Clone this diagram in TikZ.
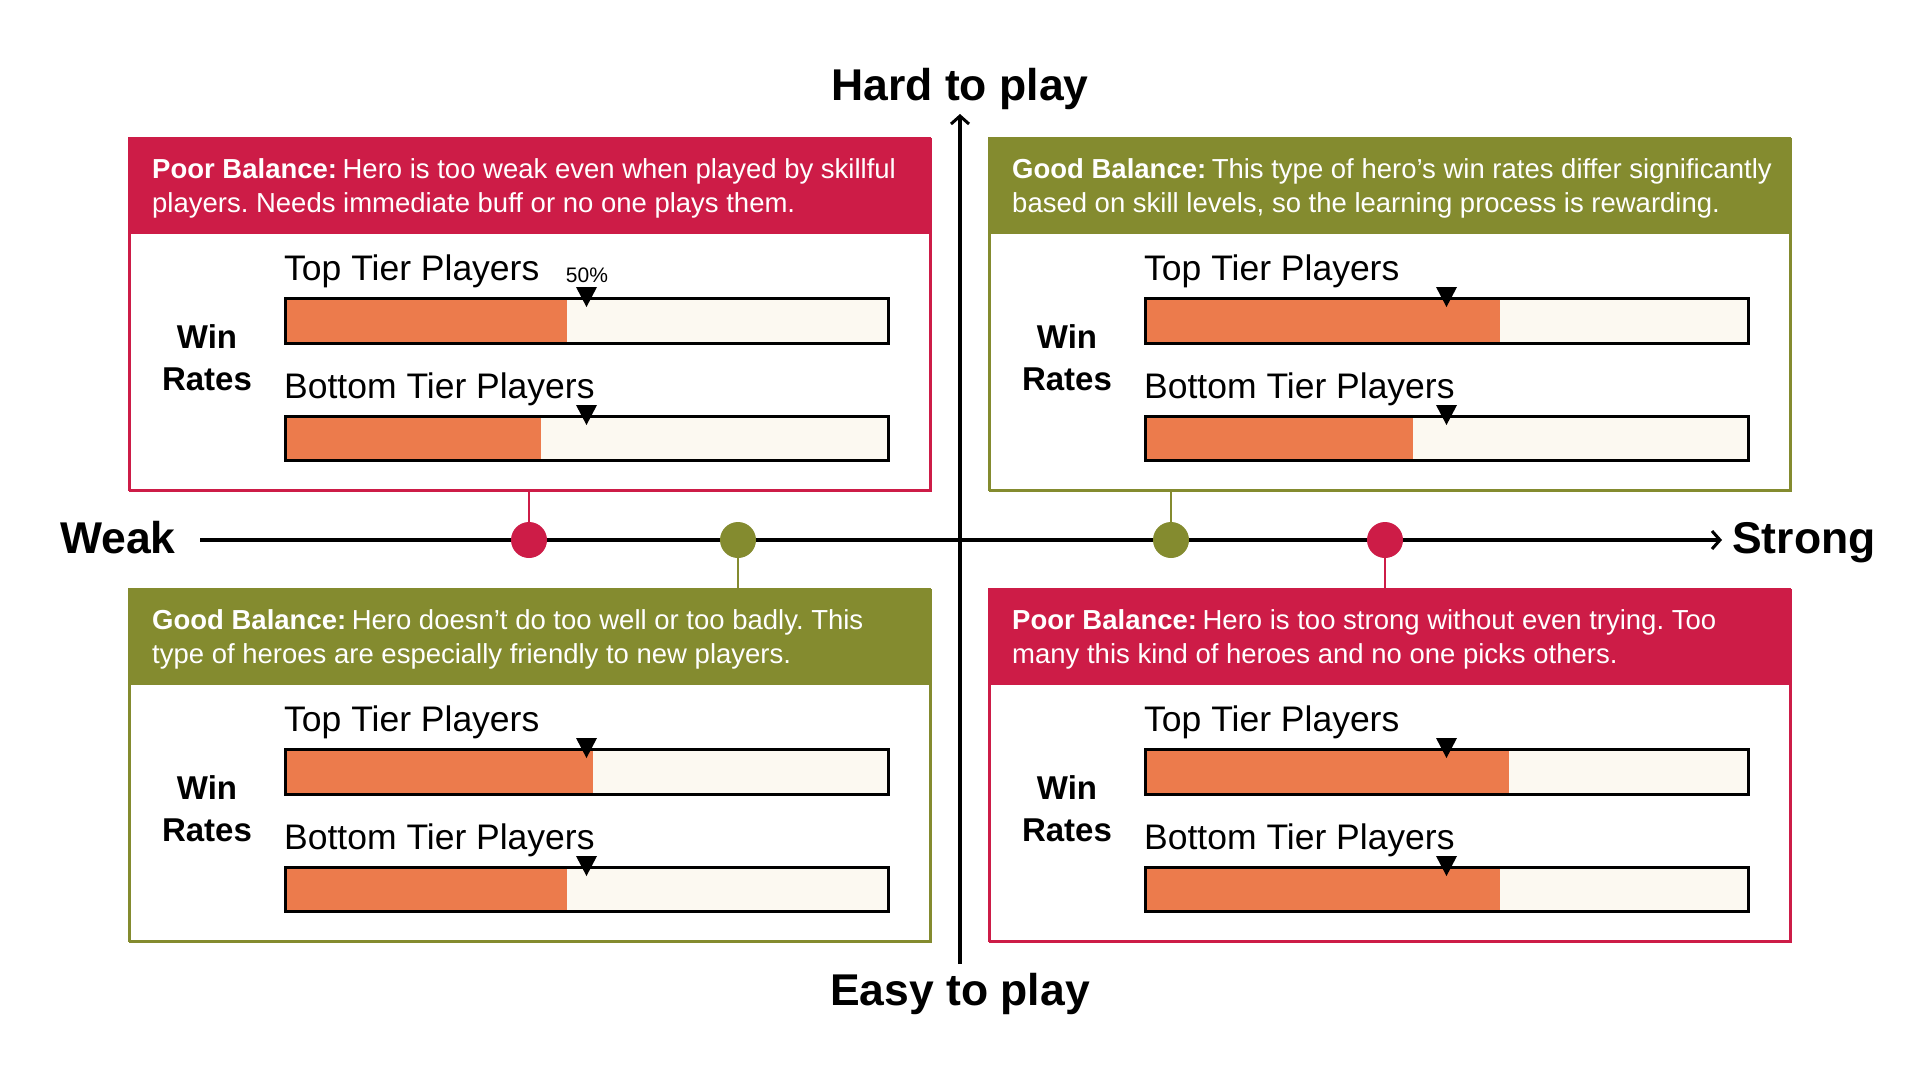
\documentclass[tikz,border=0pt]{standalone}
\usepackage{fontspec}
\setmainfont{Liberation Sans}
\usetikzlibrary{arrows.meta,calc}
\frenchspacing

\definecolor{poor}{HTML}{CD1C47}
\definecolor{good}{HTML}{848B2F}
\definecolor{winfill}{HTML}{EC7B4C}
\definecolor{bartrack}{HTML}{FCF9F1}

\tikzset{
  panelbox/.style={draw=#1, line width=2.2pt, fill=white, inner sep=0pt,
    minimum width=801pt, minimum height=352pt, anchor=north west},
  headtext/.style={text=white, anchor=base west, inner sep=0pt,
    font=\fontsize{27.5}{32}\selectfont},
  tierlabel/.style={anchor=base west, inner sep=0pt,
    font=\fontsize{35.5}{40}\selectfont},
  winlabel/.style={anchor=base, inner sep=0pt,
    font=\bfseries\fontsize{33}{38}\selectfont},
  axislabel/.style={inner sep=0pt, font=\bfseries\fontsize{44.5}{52}\selectfont},
  axisline/.style={line width=4pt, -{Straight Barb[length=8pt,width=18pt,line width=3pt]}},
  barframe/.style={draw=black, line width=3pt},
  marker/.style={fill=black},
  dot/.style={circle, fill=#1, minimum size=36pt, inner sep=0pt},
  stem/.style={draw=#1, line width=2pt},
}

% #1 name, #2 x, #3 y, #4 colour, #5 bold lead, #6 rest of line 1,
% #7 line 2, #8 top-tier fill fraction, #9 bottom-tier fill fraction
\newcommand\winpanel[9]{%
  \begin{scope}[shift={(#2,#3)}]
    \node[panelbox=#4] (#1) at (0,0) {};
    \fill[#4] (0,0) rectangle (801,96);
    \draw[#4, line width=2.2pt] (0,0) rectangle (801,352);
    \node[headtext] (#1-l1) at (23,40) {\textbf{#5}\hspace{0.2em}#6};
    \node[headtext] (#1-l2) at (23,74) {#7};
    \node[winlabel] (#1-win) at (78,210) {Win};
    \node[winlabel] (#1-rates) at (78,252) {Rates};
    \node[tierlabel] (#1-top) at (155,142) {Top Tier Players};
    \node[tierlabel] (#1-bot) at (155,260) {Bottom Tier Players};
    % top-tier bar
    \fill[bartrack] (156,160) rectangle (759,205);
    \fill[winfill] (156,160) rectangle ({156+603*#8},205);
    \draw[barframe] (156,160) rectangle (759,205);
    \fill[marker] (447,149) -- (468,149) -- (457.5,169) -- cycle;
    % bottom-tier bar
    \fill[bartrack] (156,278) rectangle (759,322);
    \fill[winfill] (156,278) rectangle ({156+603*#9},322);
    \draw[barframe] (156,278) rectangle (759,322);
    \fill[marker] (447,267) -- (468,267) -- (457.5,287) -- cycle;
  \end{scope}}

\begin{document}
\begin{tikzpicture}[x=1pt, y=-1pt]
  \fill[white] (0,0) rectangle (1920,1080);
  \useasboundingbox (0,0) rectangle (1920,1080);

  % axes
  \coordinate (xstart) at (200,540);
  \coordinate (xend) at (1722,540);
  \coordinate (ystart) at (960,964);
  \coordinate (yend) at (960,114);
  \draw[axisline] (xstart) -- (xend);
  \draw[axisline] (ystart) -- (yend);
  \node[axislabel, anchor=base west] (weak) at (60,553) {Weak};
  \node[axislabel, anchor=base west] (strong) at (1732,553) {Strong};
  \node[axislabel, anchor=base] (hard) at (960,100) {Hard to play};
  \node[axislabel, anchor=base] (easy) at (960,1005) {Easy to play};

  % quadrant panels
  \winpanel{tl}{129}{138}{poor}{Poor Balance:}{Hero is too weak even when played by skillful}
    {players. Needs immediate buff or no one plays them.}{0.467}{0.425}
  \node[inner sep=0pt, anchor=base, font=\fontsize{21}{25}\selectfont] (half) at (587,282) {50\%};

  \winpanel{tr}{989}{138}{good}{Good Balance:}{This type of hero’s win rates differ significantly}
    {based on skill levels, so the learning process is rewarding.}{0.589}{0.445}

  \winpanel{bl}{129}{589}{good}{Good Balance:}{Hero doesn’t do too well or too badly. This}
    {type of heroes are especially friendly to new players.}{0.510}{0.467}

  \winpanel{br}{989}{589}{poor}{Poor Balance:}{Hero is too strong without even trying. Too}
    {many this kind of heroes and no one picks others.}{0.604}{0.589}

  % hero positions on the strength axis
  \node[dot=poor] (d1) at (529,540) {};
  \node[dot=good] (d2) at (738,540) {};
  \node[dot=good] (d3) at (1171,540) {};
  \node[dot=poor] (d4) at (1385,540) {};
  \draw[stem=poor] (d1.north) -- (d1 |- tl.south);
  \draw[stem=good] (d2.south) -- (d2 |- bl.north);
  \draw[stem=good] (d3.north) -- (d3 |- tr.south);
  \draw[stem=poor] (d4.south) -- (d4 |- br.north);
\end{tikzpicture}
\end{document}
